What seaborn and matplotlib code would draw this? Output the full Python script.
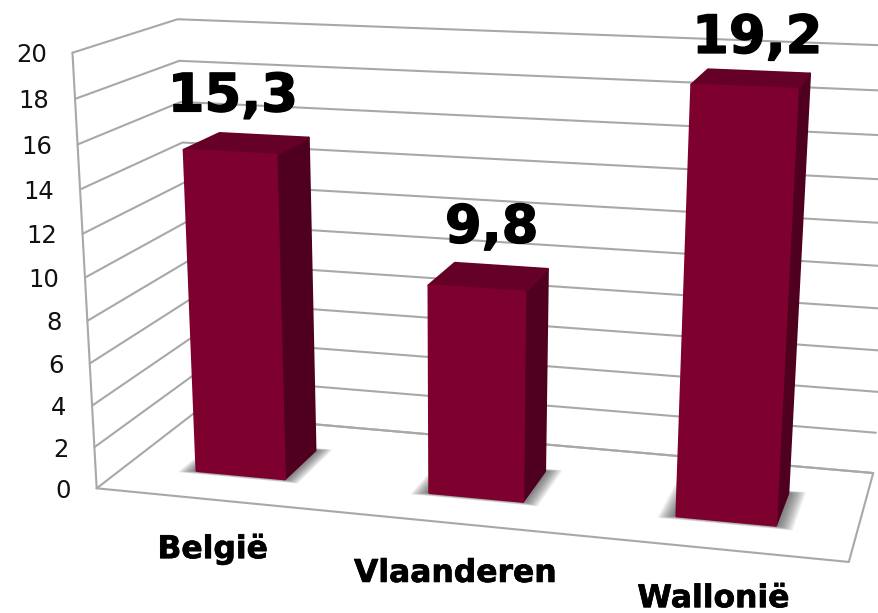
import numpy as np
import pandas as pd
import matplotlib
matplotlib.use('Agg')
import matplotlib.pyplot as plt
import matplotlib.patheffects as pe
import seaborn as sns
from matplotlib.patches import Polygon
from matplotlib.transforms import Affine2D, Transform

regios = ['België', 'Vlaanderen', 'Wallonië']
waarden = [15.3, 9.8, 19.2]
labels = ['15,3', '9,8', '19,2']
ticks = [0, 2, 4, 6, 8, 10, 12, 14, 16, 18, 20]

W, H = 879, 613
BAR_W = 0.385
Z_FRONT, Z_BACK = 0.30, 0.67
FRONT, SIDE, TOP = '#7e002e', '#4e001e', '#650026'
GRID = '#a8a8a8'

# camera fitted on the corners of the chart box: (category x, value, depth) -> pixel
anchors = [((-0.5, 0, 0), (96, 488)), ((-0.5, 20, 0), (73, 53)),
           ((-0.5, 0, 1), (194, 414)), ((-0.5, 20, 1), (177, 19)),
           ((2.5, 0, 1), (873, 473)), ((2.5, 20, 1), (901, 46)),
           ((2.5, 0, 0), (849, 562))]
rows = []
for (x, y, z), (u, v) in anchors:
    rows.append([x, y, z, 1, 0, 0, 0, 0, -u*x, -u*y, -u*z, -u])
    rows.append([0, 0, 0, 0, x, y, z, 1, -v*x, -v*y, -v*z, -v])
CAM = np.linalg.svd(np.array(rows, dtype=float))[2][-1].reshape(3, 4)


def project(x, y, z):
    p = CAM @ np.array([x, y, z, 1.0])
    return p[0]/p[2], p[1]/p[2]


class Front(Transform):
    # data (x, value) on a plane of constant depth, to pixels
    input_dims = output_dims = 2
    is_affine = False

    def __init__(self, z):
        super().__init__()
        self.z = z

    def transform_non_affine(self, values):
        return np.array([project(a, b, self.z) for a, b in values])


sns.set_theme(style='white')
plt.rcParams['font.family'] = ['DejaVu Sans']
fig, ax = plt.subplots(figsize=(W/100, H/100), dpi=100)
ax.set_position([0, 0, 1, 1])
px = Affine2D().scale(1, -1).translate(0, H) + Affine2D().scale(fig.dpi/100)

df = pd.DataFrame({'regio': regios, 'waarde': waarden})
sns.barplot(data=df, x='regio', y='waarde', color=FRONT, saturation=1, width=BAR_W, ax=ax)
ax.set_xlim(-0.5, 2.5)
ax.set_ylim(0, 20)
ax.axis('off')

# walls and floor
for t in ticks:
    pts = [project(-0.5, t, 0), project(-0.5, t, 1), project(2.5, t, 1)]
    ax.plot(*zip(*pts), color=GRID, lw=1.5, transform=px, zorder=1)
edge = [project(-0.5, 0, 0), project(-0.5, 20, 0)]
ax.plot(*zip(*edge), color=GRID, lw=1.5, transform=px, zorder=1)
floor = [project(-0.5, 0, 1), project(2.5, 0, 1), project(2.5, 0, 0), project(-0.5, 0, 0)]
ax.plot(*zip(*floor), color=GRID, lw=1.5, transform=px, zorder=1)

for i, (bar, val) in enumerate(zip(ax.patches, waarden)):
    bar.set_transform(Front(Z_FRONT) + px)
    bar.set_edgecolor(FRONT)
    bar.set_linewidth(1.8)
    bar.set_joinstyle('round')
    bar.set_zorder(5)
    x0, x1 = i - BAR_W/2, i + BAR_W/2

    # soft shadow on the floor
    for k in range(12):
        g = 0.006*(k + 1)
        foot = [project(x0 - g*0.95, 0, Z_FRONT - g*0.5), project(x1 + g*0.95, 0, Z_FRONT - g*0.5),
                project(x1 + g*0.95, 0, Z_BACK + g*0.4), project(x0 - g*0.95, 0, Z_BACK + g*0.4)]
        ax.add_patch(Polygon(foot, closed=True, fc='#303030', ec='none', alpha=0.075, transform=px, zorder=2))

    side = [project(x1, 0, Z_FRONT), project(x1, val, Z_FRONT), project(x1, val, Z_BACK), project(x1, 0, Z_BACK)]
    top = [project(x0, val, Z_FRONT), project(x1, val, Z_FRONT), project(x1, val, Z_BACK), project(x0, val, Z_BACK)]
    ax.add_patch(Polygon(side, closed=True, fc=SIDE, ec=SIDE, lw=1.8, joinstyle='round', transform=px, zorder=3))
    ax.add_patch(Polygon(top, closed=True, fc=TOP, ec=TOP, lw=1.8, joinstyle='round', transform=px, zorder=4))

# value axis labels
for t in ticks:
    u, v = project(-0.5, t, 0)
    ax.text(u - 25.5, v + 2.5, str(t), ha='right', va='center', fontsize=17.5, color='#111111', transform=px)

# category labels
heavy = [pe.withStroke(linewidth=0.5, foreground='black')]
for i, name in enumerate(regios):
    u, v = project(i, 0, 0)
    ax.text(u, v + 50, name, ha='center', va='center', fontsize=22.6, fontweight='bold', color='black',
            transform=px, path_effects=heavy)

# value labels above the bars
nudge = [(3, -56), (15, -61), (13, -49)]
for i, (val, lab) in enumerate(zip(waarden, labels)):
    u, v = project(i, val, Z_FRONT)
    ax.text(u + nudge[i][0], v + nudge[i][1], lab, ha='center', va='center', fontsize=38,
            fontweight='bold', color='black', transform=px, zorder=6,
            path_effects=[pe.withStroke(linewidth=1.0, foreground='black')])

fig.savefig('out.png', dpi=100)
